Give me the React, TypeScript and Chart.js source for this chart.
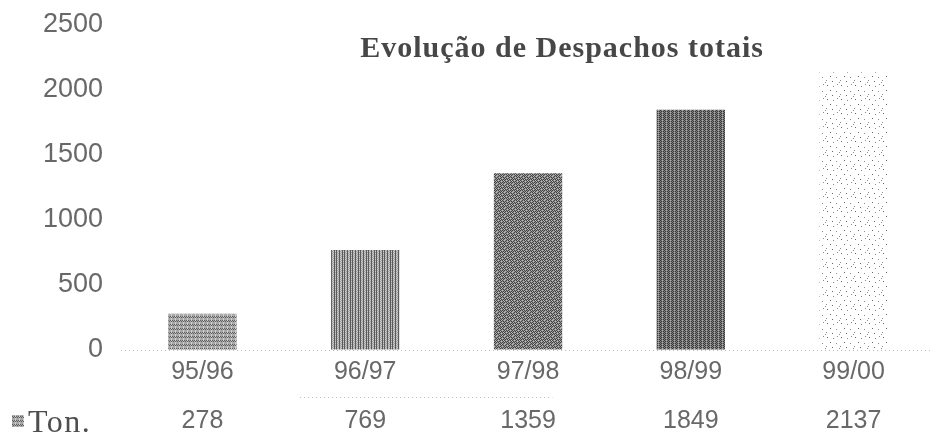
import { useEffect, useRef } from 'react';
import { Chart, registerables } from 'chart.js';

Chart.register(...registerables);

// Season labels and shipped tonnage per season
const categories = ['95/96', '96/97', '97/98', '98/99', '99/00'];
const tonValues = [278, 769, 1359, 1849, 2137];
const seriesLabel = 'Ton.';
const chartTitle = 'Evolução de Despachos totais';
const yMin = 0;
const yMax = 2500;
const yStep = 500;

const SANS = '"Liberation Sans", Arial, sans-serif';
const SERIF = '"Liberation Serif", "Times New Roman", serif';
const TEXT = '#686868';

type Tex = { base: string | null; ink: string; light: string; kind: number };

// Halftone-like fills for the bars (one per season)
const textures: Tex[] = [
  { base: '#a8a8a8', ink: '#606060', light: '#d0d0d0', kind: 0 },
  { base: '#a0a0a0', ink: '#5a5a5a', light: '#cacaca', kind: 1 },
  { base: '#8e8e8e', ink: '#444444', light: '#bcbcbc', kind: 2 },
  { base: '#808080', ink: '#383838', light: '#acacac', kind: 3 },
  { base: null, ink: '#8c8c8c', light: '#bdbdbd', kind: 4 },
];

function makePattern(t: Tex): CanvasPattern | string {
  const size = t.kind === 4 ? 14 : 8;
  const c = document.createElement('canvas');
  c.width = size;
  c.height = size;
  const g = c.getContext('2d');
  if (!g) return t.base || '#999';
  if (t.base) {
    g.fillStyle = t.base;
    g.fillRect(0, 0, size, size);
  }
  const px = (x: number, y: number, col: string) => {
    g.fillStyle = col;
    g.fillRect(x, y, 1, 1);
  };
  for (let y = 0; y < size; y++) {
    for (let x = 0; x < size; x++) {
      if (t.kind === 0) {
        if ((x + y) % 2 === 0 && y % 4 < 2) px(x, y, t.ink);
        else if (x % 4 === 3) px(x, y, t.light);
      } else if (t.kind === 1) {
        if (x % 3 === 0) px(x, y, t.ink);
        else if ((x + y) % 2 === 0) px(x, y, t.light);
      } else if (t.kind === 2) {
        if ((x + y) % 2 === 0 && (x * 3 + y) % 5 !== 0) px(x, y, t.ink);
        else if ((x * 3 + y) % 5 === 0) px(x, y, t.light);
      } else if (t.kind === 3) {
        if ((x + y) % 2 === 0 && x % 4 !== 2) px(x, y, t.ink);
        else if (x % 4 === 2 && y % 2 === 0) px(x, y, t.light);
      }
    }
  }
  if (t.kind === 4) {
    const dots = [[1, 1], [7, 2], [11, 0], [4, 6], [10, 7], [0, 10], [6, 11], [13, 12]];
    dots.forEach(([x, y], i) => px(x, y, i % 3 === 0 ? '#666' : t.ink));
  }
  return g.createPattern(c, 'repeat') || t.base || '#999';
}

const overlay = {
  id: 'overlay',
  afterDraw(chart: Chart, _a: unknown, opts: { fills: (CanvasPattern | string)[] }) {
    const { ctx, chartArea } = chart;
    const x = chart.scales.x;
    const y = chart.scales.y;
    ctx.save();

    // title
    ctx.font = `bold 30px ${SERIF}`;
    (ctx as any).letterSpacing = '1px';
    ctx.fillStyle = '#474747';
    ctx.textAlign = 'center';
    ctx.textBaseline = 'alphabetic';
    ctx.fillText(chartTitle, chartArea.left + 441, 57);

    // dotted zero line
    const y0 = Math.round(y.getPixelForValue(0)) + 0.5;
    ctx.strokeStyle = '#b8b8b8';
    ctx.lineWidth = 1;
    ctx.setLineDash([1, 3]);
    ctx.beginPath();
    ctx.moveTo(chartArea.left, y0);
    ctx.lineTo(chartArea.right, y0);
    ctx.stroke();

    // table row separator
    const rowTop = 397.5;
    ctx.beginPath();
    ctx.moveTo(x.getPixelForValue(0.6), rowTop);
    ctx.lineTo(x.getPixelForValue(2.15), rowTop);
    ctx.stroke();
    ctx.setLineDash([]);

    // data table row: legend key, series name, values
    const rowY = 421;
    ctx.fillStyle = opts.fills[0];
    ctx.fillRect(12, rowY - 6, 12, 12);
    ctx.font = `32px ${SERIF}`;
    (ctx as any).letterSpacing = '1.5px';
    ctx.fillStyle = '#4e4e4e';
    ctx.textAlign = 'left';
    ctx.textBaseline = 'alphabetic';
    ctx.fillText(seriesLabel, 28, 432);
    (ctx as any).letterSpacing = '0px';

    ctx.font = `25px ${SANS}`;
    ctx.fillStyle = TEXT;
    ctx.textAlign = 'center';
    ctx.textBaseline = 'middle';
    tonValues.forEach((v, i) => {
      ctx.fillText(String(v), x.getPixelForValue(i), rowY);
    });
    ctx.restore();
  },
};

export default function App() {
  const ref = useRef<HTMLCanvasElement>(null);

  useEffect(() => {
    const canvas = ref.current;
    if (!canvas) return;
    const fills = textures.map(makePattern);
    const chart = new Chart(canvas, {
      type: 'bar',
      data: {
        labels: categories,
        datasets: [
          {
            label: seriesLabel,
            data: tonValues,
            backgroundColor: fills,
            borderWidth: 0,
            categoryPercentage: 1,
            barPercentage: 0.42,
          },
        ],
      },
      options: {
        responsive: false,
        animation: false,
        layout: { padding: { left: 43, right: 0, top: 25, bottom: 56 } },
        plugins: {
          legend: { display: false },
          tooltip: { enabled: false },
          title: { display: false },
          overlay: { fills },
        } as any,
        scales: {
          x: {
            grid: { color: 'transparent', drawTicks: true, tickLength: 7 },
            border: { display: false },
            ticks: { color: TEXT, font: { family: SANS, size: 25 }, padding: 0 },
          },
          y: {
            min: yMin,
            max: yMax,
            grid: { color: 'transparent', drawTicks: true, tickLength: 18 },
            border: { display: false },
            ticks: {
              stepSize: yStep,
              color: TEXT,
              font: { family: SANS, size: 27 },
              padding: 0,
              callback: (v: string | number) => String(v),
            },
          },
        },
      },
      plugins: [overlay],
    });
    return () => chart.destroy();
  }, []);

  return (
    <div
      style={{
        position: 'fixed',
        left: 0,
        top: 0,
        width: 930,
        height: 443,
        overflow: 'hidden',
        background: '#fff',
      }}
    >
      <canvas ref={ref} width={935} height={443} style={{ width: 935, height: 443 }} />
    </div>
  );
}
